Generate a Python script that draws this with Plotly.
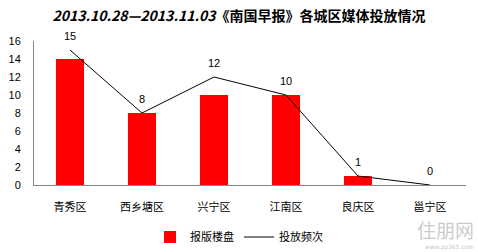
import plotly.graph_objects as go

categories = ["青秀区", "西乡塘区", "兴宁区", "江南区", "良庆区", "邕宁区"]
bar_values = [14, 8, 10, 10, 1, 0]
line_values = [15, 8, 12, 10, 1, 0]
y_ticks = [0, 2, 4, 6, 8, 10, 12, 14, 16]

font_cn = "Noto Sans CJK SC, DejaVu Sans, sans-serif"
font_num = "Liberation Sans, Arial, sans-serif"

fig = go.Figure()
fig.add_trace(go.Bar(
    x=categories, y=bar_values, name="报版楼盘",
    marker=dict(color="#FF0000", line=dict(width=0)),
    width=0.39,
))
fig.add_trace(go.Scatter(
    x=categories, y=line_values, name="投放频次",
    mode="lines",
    line=dict(color="#000000", width=1),
    cliponaxis=False,
))

for c, v in zip(categories, line_values):
    fig.add_annotation(
        x=c, y=v, text=str(v), showarrow=False, yshift=14,
        font=dict(size=11, color="#000000", family=font_num),
    )

fig.update_layout(
    width=478, height=252,
    margin=dict(l=34, r=12, t=41, b=67, autoexpand=False),
    paper_bgcolor="white", plot_bgcolor="white",
    title=dict(
        text="<b><i>2013.10.28—2013.11.03</i>《南国早报》各城区媒体投放情况</b>",
        x=0.5, xanchor="center", xref="container", y=1 - 16 / 252, yanchor="middle",
        font=dict(size=14, color="#000000", family=font_cn),
    ),
    xaxis=dict(
        showline=True, linecolor="#888888", linewidth=1, showgrid=False,
        ticks="", ticklabelstandoff=12, automargin=False,
        tickfont=dict(size=11, color="#000000", family=font_cn),
    ),
    yaxis=dict(
        range=[0, 16], tickvals=y_ticks, showline=True, linecolor="#888888", linewidth=1,
        showgrid=False, zeroline=False, ticks="", ticklabelstandoff=10, automargin=False,
        tickfont=dict(size=11, color="#000000", family=font_num),
    ),
    showlegend=True,
    legend=dict(
        orientation="h", xref="container", yref="container",
        x=0.5, xanchor="center", y=1 - 237 / 252, yanchor="middle",
        font=dict(size=11, color="#000000", family=font_cn),
        itemwidth=30,
    ),
)

fig.add_annotation(
    text="住朋网",
    xref="paper", yref="paper", x=1.02, y=(185 - 244) / 144, xanchor="right", yanchor="bottom",
    showarrow=False, borderpad=0,
    font=dict(size=19, color="rgba(150,150,150,0.5)", family=font_cn),
)
fig.add_annotation(
    text="www.zp365.com",
    xref="paper", yref="paper", x=1.02, y=(185 - 252) / 144, xanchor="right", yanchor="bottom",
    showarrow=False, borderpad=0,
    font=dict(size=6, color="rgba(150,150,150,0.6)", family="DejaVu Sans"),
)

fig.write_html("out.html")
